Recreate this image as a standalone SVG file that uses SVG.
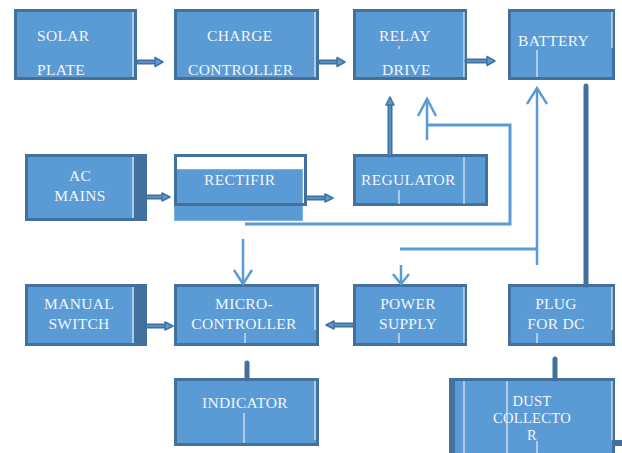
<svg xmlns="http://www.w3.org/2000/svg" width="622" height="453" viewBox="0 0 622 453">
<style>
.box{fill:#5B9BD5;stroke:#41719C;stroke-width:3}
.t{font-family:"Liberation Serif","Times New Roman",serif;font-size:15.5px;fill:#F2F6FB;letter-spacing:0.3px}
.s{font-size:14.5px}
.c{text-anchor:middle}
.wl{stroke:#FFFFFF;stroke-width:1}
.thick{stroke:#41719C;stroke-width:5;fill:none;stroke-linecap:round}
.inner{stroke:#5B9BD5;stroke-width:1.5;fill:none}
.head{fill:#5B9BD5;stroke:#41719C;stroke-width:1.5;stroke-linejoin:round}
.thin{stroke:#5B9BD5;stroke-width:3;fill:none}
.chev{stroke:#5B9BD5;stroke-width:2.5;fill:none}
</style>
<rect width="622" height="453" fill="#FFFFFF"/>
<g id="solar">
<rect class="box" x="15.5" y="10.5" width="120" height="68"/>
<line class="wl" x1="133" y1="12" x2="133" y2="77"/>
<text class="t" x="37" y="41">SOLAR</text>
<text class="t" x="37" y="75">PLATE</text>
</g>
<g id="charge">
<rect class="box" x="175.5" y="10.5" width="142" height="68"/>
<line class="wl" x1="315" y1="12" x2="315" y2="77"/>
<text class="t" x="207" y="41">CHARGE</text>
<text class="t" x="188" y="75">CONTROLLER</text>
</g>
<g id="relay">
<rect class="box" x="354.5" y="10.5" width="111" height="68"/>
<line class="wl" x1="464" y1="12" x2="464" y2="77"/>
<line class="wl" x1="399" y1="46" x2="399" y2="49"/>
<text class="t" x="379" y="41">RELAY</text>
<text class="t" x="382" y="75">DRIVE</text>
</g>
<g id="battery">
<rect class="box" x="509.5" y="10.5" width="104" height="68"/>
<line class="wl" x1="612" y1="12" x2="612" y2="48"/>
<line class="wl" x1="537" y1="50" x2="537" y2="77"/>
<text class="t" x="518" y="46">BATTERY</text>
</g>
<g id="acmains">
<rect class="box" x="26.5" y="155.5" width="119" height="64"/>
<rect x="134" y="155" width="12" height="65" fill="#41719C"/>
<line class="wl" x1="133" y1="157" x2="133" y2="218"/>
<text class="t c" x="80" y="181">AC</text>
<text class="t c" x="80" y="201">MAINS</text>
</g>
<g id="rectifir">
<rect x="174.5" y="169.5" width="128" height="51" fill="#5B9BD5" stroke="#7EB0E0" stroke-width="1"/>
<rect x="175.5" y="155.5" width="130" height="49" fill="none" stroke="#41719C" stroke-width="3"/>
<text class="t" x="204" y="185">RECTIFIR</text>
</g>
<g id="regulator">
<rect class="box" x="354.5" y="155.5" width="132" height="49"/>
<line class="wl" x1="464" y1="157" x2="464" y2="204"/>
<line class="wl" x1="399" y1="190" x2="399" y2="204"/>
<text class="t" x="361" y="185">REGULATOR</text>
</g>
<g id="manual">
<rect class="box" x="26.5" y="285.5" width="119" height="59"/>
<rect x="134" y="285" width="12" height="60" fill="#41719C"/>
<line class="wl" x1="133" y1="287" x2="133" y2="343"/>
<text class="t c" x="79" y="309">MANUAL</text>
<text class="t c" x="79" y="329">SWITCH</text>
</g>
<g id="micro">
<rect class="box" x="175.5" y="285.5" width="142" height="59"/>
<line class="wl" x1="315" y1="287" x2="315" y2="330"/>
<line class="wl" x1="245" y1="333" x2="245" y2="343"/>
<text class="t c" x="244" y="309">MICRO-</text>
<text class="t c" x="244" y="329">CONTROLLER</text>
</g>
<g id="power">
<rect class="box" x="354.5" y="285.5" width="111" height="59"/>
<line class="wl" x1="464" y1="287" x2="464" y2="343"/>
<line class="wl" x1="399" y1="333" x2="399" y2="343"/>
<text class="t c" x="408" y="309">POWER</text>
<text class="t c" x="408" y="329">SUPPLY</text>
</g>
<g id="plug">
<rect class="box" x="509.5" y="285.5" width="104" height="59"/>
<line class="wl" x1="612" y1="287" x2="612" y2="330"/>
<line class="wl" x1="537" y1="333" x2="537" y2="343"/>
<text class="t c" x="556" y="309">PLUG</text>
<text class="t c" x="556" y="329">FOR DC</text>
</g>
<g id="indicator">
<rect class="box" x="175.5" y="379.5" width="142" height="65"/>
<line class="wl" x1="315" y1="381" x2="315" y2="440"/>
<line class="wl" x1="244" y1="413" x2="244" y2="443"/>
<text class="t" x="202" y="408">INDICATOR</text>
</g>
<g id="dust">
<rect class="box" x="450.5" y="379.5" width="163" height="80"/>
<rect x="449" y="378" width="6" height="75" fill="#41719C"/>
<rect x="612" y="440" width="10" height="6" fill="#41719C"/>
<line class="wl" x1="464" y1="381" x2="464" y2="453"/>
<line class="wl" x1="507" y1="381" x2="507" y2="453"/>
<line class="wl" x1="537" y1="441" x2="537" y2="453"/>
<line class="wl" x1="612" y1="381" x2="612" y2="440"/>
<text class="t s c" x="532" y="406">DUST</text>
<text class="t s c" x="532" y="423">COLLECTO</text>
<text class="t s c" x="532" y="440">R</text>
</g>
<g id="connectors">
<line class="thick" x1="138" y1="62" x2="156" y2="62" stroke-linecap="butt"/>
<line class="inner" x1="138" y1="62" x2="156" y2="62"/>
<polygon class="head" points="155,57.5 163,62 155,66.5"/>
<line class="thick" x1="320" y1="62" x2="338" y2="62" stroke-linecap="butt"/>
<line class="inner" x1="320" y1="62" x2="338" y2="62"/>
<polygon class="head" points="337,57.5 345,62 337,66.5"/>
<line class="thick" x1="467" y1="61" x2="488" y2="61" stroke-linecap="butt"/>
<line class="inner" x1="467" y1="61" x2="488" y2="61"/>
<polygon class="head" points="487,56.5 495,61 487,65.5"/>
<line class="thick" x1="147" y1="197" x2="163" y2="197" stroke-linecap="butt"/>
<line class="inner" x1="147" y1="197" x2="163" y2="197"/>
<polygon class="head" points="162,193 170,197 162,201"/>
<line class="thick" x1="307" y1="198" x2="326" y2="198" stroke-linecap="butt"/>
<line class="inner" x1="307" y1="198" x2="326" y2="198"/>
<polygon class="head" points="325,194 333,198 325,202"/>
<line class="thick" x1="147" y1="326" x2="166" y2="326" stroke-linecap="butt"/>
<line class="inner" x1="147" y1="326" x2="166" y2="326"/>
<polygon class="head" points="165,322 173,326 165,330"/>
<line class="thick" x1="353" y1="325" x2="333" y2="325" stroke-linecap="butt"/>
<line class="inner" x1="353" y1="325" x2="333" y2="325"/>
<polygon class="head" points="334,321 326,325 334,329"/>
<line class="thick" x1="390" y1="155" x2="390" y2="104" stroke-linecap="butt"/>
<line class="inner" x1="390" y1="155" x2="390" y2="104"/>
<polygon class="head" points="386,105 390,97 394,105"/>
<line class="thick" x1="586" y1="86" x2="586" y2="285"/>
<line class="thick" x1="247" y1="363" x2="247" y2="379"/>
<line class="thick" x1="555" y1="359" x2="555" y2="379"/>
<polyline class="thin" points="245,224 510,224 510,125 427,125"/>
<line class="chev" x1="427" y1="99" x2="427" y2="140"/>
<polyline class="chev" points="418,116 427,99 436,116"/>
<line class="thin" x1="400" y1="249" x2="537" y2="249"/>
<line class="chev" x1="537" y1="88" x2="537" y2="265"/>
<polyline class="chev" points="527,104 537,88 547,104"/>
<line class="chev" x1="243" y1="239" x2="243" y2="284"/>
<polyline class="chev" points="234,270 243,284 252,270"/>
<line class="chev" x1="401" y1="265" x2="401" y2="284"/>
<polyline class="chev" points="393,274 401,284 409,274"/>
</g>
</svg>
